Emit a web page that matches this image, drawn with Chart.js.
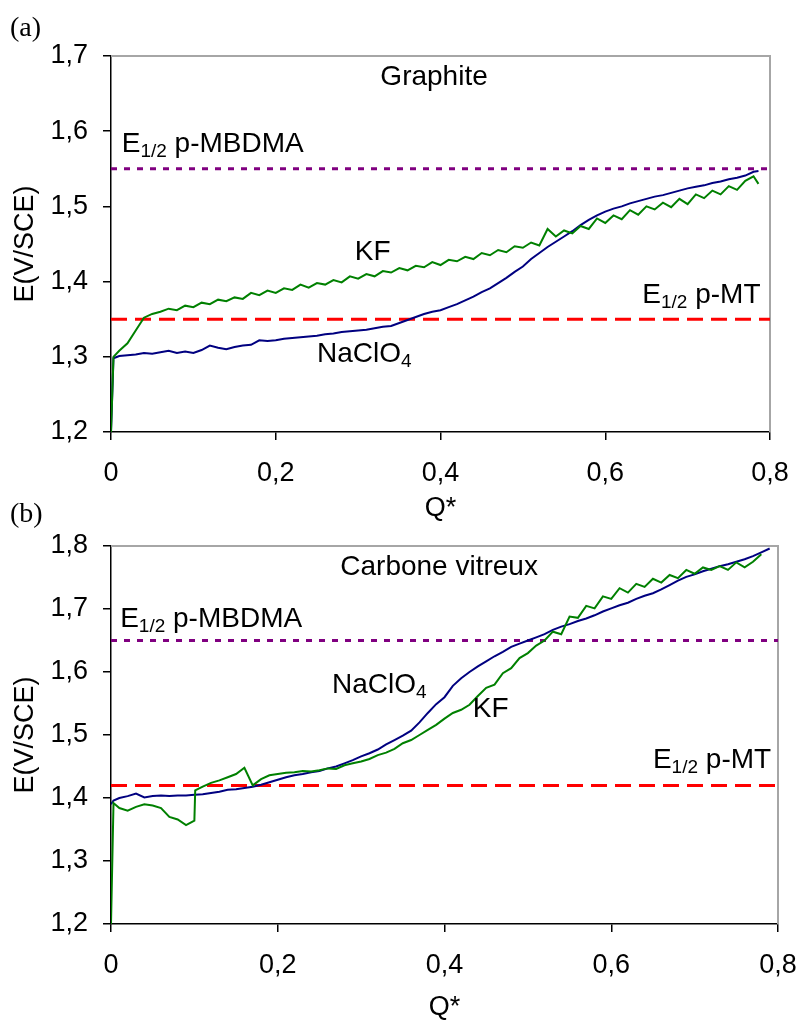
<!DOCTYPE html>
<html><head><meta charset="utf-8">
<script src="https://cdn.jsdelivr.net/npm/chart.js@4.4.0/dist/chart.umd.min.js"></script>
<style>
html,body{margin:0;padding:0;background:#fff;}
body{width:798px;height:1021px;position:relative;overflow:hidden;}
canvas{position:absolute;left:0;}
#cA{top:0}#cB{top:525px}
.tag{position:absolute;left:10px;z-index:2;font:28px/28px "Liberation Serif","Times New Roman",serif;color:#000}
</style></head><body>
<canvas id="cA" width="798" height="525"></canvas>
<canvas id="cB" width="798" height="496"></canvas>
<div class="tag" style="top:13px">(a)</div>
<div class="tag" style="top:499px">(b)</div>
<script>
'use strict';
// (a) Graphite
const qA=[0,0.003,
  0.01,0.02,0.03,0.04,0.05,0.06,0.07,0.08,0.09,0.10,
  0.11,0.12,0.13,0.14,0.15,0.16,0.17,0.18,0.19,0.20,
  0.21,0.22,0.23,0.24,0.25,0.26,0.27,0.28,0.29,0.30,
  0.31,0.32,0.33,0.34,0.35,0.36,0.37,0.38,0.39,0.40,
  0.41,0.42,0.43,0.44,0.45,0.46,0.47,0.48,0.49,0.50,
  0.51,0.52,0.53,0.54,0.55,0.56,0.57,0.58,0.59,0.60,
  0.61,0.62,0.63,0.64,0.65,0.66,0.67,0.68,0.69,0.70,
  0.71,0.72,0.73,0.74,0.75,0.76,0.77,0.78,0.786];
const naA=[1.200,1.298,
  1.301,1.302,1.303,1.305,1.304,1.306,1.308,1.305,1.307,1.305,
  1.309,1.315,1.312,1.310,1.313,1.315,1.316,1.322,1.321,1.322,
  1.324,1.325,1.326,1.327,1.328,1.330,1.331,1.333,1.334,1.335,
  1.336,1.338,1.340,1.341,1.345,1.349,1.353,1.357,1.360,1.362,
  1.366,1.370,1.375,1.380,1.386,1.391,1.398,1.405,1.413,1.420,
  1.430,1.438,1.446,1.453,1.460,1.467,1.475,1.482,1.488,1.493,
  1.497,1.500,1.504,1.507,1.510,1.513,1.515,1.518,1.521,1.524,
  1.526,1.528,1.531,1.533,1.536,1.538,1.541,1.546,1.547];
const kfA=[1.200,1.300,
  1.308,1.318,1.335,1.352,1.357,1.360,1.364,1.362,1.368,1.366,
  1.372,1.370,1.376,1.374,1.379,1.377,1.385,1.382,1.388,1.385,
  1.391,1.389,1.396,1.392,1.398,1.396,1.402,1.399,1.407,1.404,
  1.410,1.407,1.414,1.412,1.418,1.415,1.421,1.419,1.426,1.422,
  1.429,1.427,1.433,1.430,1.438,1.435,1.442,1.439,1.447,1.445,
  1.452,1.448,1.470,1.460,1.468,1.464,1.474,1.470,1.484,1.478,
  1.488,1.483,1.495,1.489,1.500,1.496,1.505,1.499,1.510,1.503,
  1.516,1.511,1.521,1.516,1.527,1.522,1.534,1.540,1.530];
const mtA=1.35, mbA=1.55;

// (b) Carbone vitreux
const qB=[0,0.003,
  0.01,0.02,0.03,0.04,0.05,0.06,0.07,0.08,0.09,0.10,
  0.101,
  0.11,0.12,0.13,0.14,0.15,0.16,0.17,0.18,0.19,0.20,
  0.21,0.22,0.23,0.24,0.25,0.26,0.27,0.28,0.29,0.30,
  0.31,0.32,0.33,0.34,0.35,0.36,0.37,0.38,0.39,0.40,
  0.41,0.42,0.43,0.44,0.45,0.46,0.47,0.48,0.49,0.50,
  0.51,0.52,0.53,0.54,0.55,0.56,0.57,0.58,0.59,0.60,
  0.61,0.62,0.63,0.64,0.65,0.66,0.67,0.68,0.69,0.70,
  0.71,0.72,0.73,0.74,0.75,0.76,0.77,0.78,0.79];
const naB=[1.390,1.396,
  1.400,1.403,1.407,1.401,1.403,1.404,1.403,1.404,1.404,1.405,
  1.405,
  1.406,1.408,1.410,1.413,1.414,1.416,1.418,1.421,1.425,1.429,
  1.433,1.436,1.438,1.441,1.443,1.447,1.450,1.455,1.460,1.466,
  1.471,1.477,1.485,1.492,1.499,1.507,1.520,1.535,1.549,1.560,
  1.578,1.590,1.600,1.609,1.617,1.625,1.632,1.640,1.645,1.650,
  1.655,1.660,1.667,1.672,1.676,1.681,1.685,1.690,1.696,1.701,
  1.706,1.710,1.716,1.721,1.725,1.731,1.738,1.745,1.751,1.755,
  1.760,1.764,1.768,1.771,1.775,1.779,1.784,1.790,1.796];
const kfB=[1.200,1.392,
  1.384,1.380,1.386,1.390,1.388,1.384,1.370,1.366,1.357,1.364,
  1.412,
  1.418,1.424,1.428,1.433,1.438,1.448,1.420,1.430,1.436,1.438,
  1.440,1.441,1.443,1.442,1.444,1.447,1.446,1.452,1.455,1.458,
  1.462,1.468,1.472,1.478,1.487,1.492,1.500,1.508,1.516,1.526,
  1.535,1.540,1.548,1.562,1.575,1.580,1.598,1.606,1.622,1.630,
  1.642,1.650,1.664,1.660,1.688,1.686,1.705,1.701,1.720,1.716,
  1.733,1.726,1.740,1.735,1.748,1.742,1.754,1.749,1.762,1.756,
  1.766,1.762,1.768,1.762,1.774,1.766,1.775,1.787,null];
const mtB=1.42, mbB=1.65;

const FONT='"Liberation Sans",Arial,sans-serif';
Chart.defaults.font.family=FONT;
Chart.defaults.color='#000';

const fmt=v=>v===0?'0':(+v).toFixed(1).replace('.',',');
const pts=(q,e)=>q.map((x,i)=>({x,y:e[i]}));
const hline=v=>[{x:0,y:v},{x:0.8,y:v}];

const frame={id:'frame',beforeDatasetsDraw(c){
  const a=c.chartArea,x=c.ctx;x.save();x.strokeStyle='#a6a6a6';x.lineWidth=2;
  x.beginPath();x.moveTo(a.left,a.top);x.lineTo(a.right,a.top);x.lineTo(a.right,a.bottom);x.stroke();x.restore();}};
const notes={id:'notes',afterDatasetsDraw(c,args,o){
  const ctx=c.ctx,sx=c.scales.x,sy=c.scales.y;ctx.save();ctx.fillStyle='#000';ctx.textBaseline='alphabetic';ctx.textAlign='left';
  (o.items||[]).forEach(t=>{
    let px=sx.getPixelForValue(t.x);const py=sy.getPixelForValue(t.y);
    ctx.font='28px '+FONT;ctx.fillText(t.a,px,py);px+=ctx.measureText(t.a).width;
    if(t.s){ctx.font='19px '+FONT;ctx.fillText(t.s,px,py+5);px+=ctx.measureText(t.s).width;}
    if(t.b){ctx.font='28px '+FONT;ctx.fillText(t.b,px,py);}
  });ctx.restore();}};

function draw(id,d){
  return new Chart(document.getElementById(id),{type:'line',
    data:{datasets:[
      {data:pts(d.q,d.kf),borderColor:'#008000',borderWidth:2},
      {data:pts(d.q,d.na),borderColor:'#000080',borderWidth:2},
      {data:hline(d.mt),borderColor:'#ff0000',borderWidth:3,borderDash:[16,8]},
      {data:hline(d.mb),borderColor:'#800080',borderWidth:3,borderDash:[6,7]}]},
    options:{responsive:false,animation:false,
      layout:{padding:d.pad},
      elements:{point:{radius:0},line:{tension:0,fill:false}},
      plugins:{legend:{display:false},tooltip:{enabled:false},notes:{items:d.notes}},
      scales:{
        x:{type:'linear',min:0,max:0.8,afterFit(s){s.height=d.xh;s.paddingLeft=0;s.paddingRight=0;},
          ticks:{stepSize:0.2,callback:fmt,padding:17,font:{size:27},color:'#000',maxRotation:0},
          grid:{drawOnChartArea:false,tickLength:8,color:'#000',lineWidth:1.5},
          border:{color:'#000',width:1.5},
          title:{display:true,text:'Q*',color:'#000',font:{size:27,lineHeight:1},padding:{top:0,bottom:d.tp}}},
        y:{type:'linear',min:d.ymin,max:d.ymax,afterFit(s){s.width=111;s.paddingTop=0;s.paddingBottom=0;},
          ticks:{stepSize:0.1,callback:fmt,padding:15,font:{size:27},color:'#000'},
          grid:{drawOnChartArea:false,tickLength:8,color:'#000',lineWidth:1.5},
          border:{color:'#000',width:1.5},
          title:{display:true,text:'E(V/SCE)',color:'#000',font:{size:27,lineHeight:1},padding:{top:12,bottom:0}}}}},
    plugins:[frame,notes]});
}

draw('cA',{q:qA,na:naA,kf:kfA,mt:mtA,mb:mbA,ymin:1.2,ymax:1.7,
  pad:{top:56,right:28,left:0,bottom:0},xh:93,tp:2.5,
  notes:[{x:0.327,y:1.661,a:'Graphite'},
    {x:0.013,y:1.572,a:'E',s:'1/2',b:' p-MBDMA'},
    {x:0.296,y:1.429,a:'KF'},
    {x:0.25,y:1.293,a:'NaClO',s:'4'},
    {x:0.645,y:1.372,a:'E',s:'1/2',b:' p-MT'}]});
draw('cB',{q:qB,na:naB,kf:kfB,mt:mtB,mb:mbB,ymin:1.2,ymax:1.8,
  pad:{top:21,right:20,left:0,bottom:0},xh:97,tp:0,
  notes:[{x:0.275,y:1.754,a:'Carbone vitreux'},
    {x:0.011,y:1.671,a:'E',s:'1/2',b:' p-MBDMA'},
    {x:0.265,y:1.567,a:'NaClO',s:'4'},
    {x:0.434,y:1.529,a:'KF'},
    {x:0.650,y:1.448,a:'E',s:'1/2',b:' p-MT'}]});
</script>
</body></html>
